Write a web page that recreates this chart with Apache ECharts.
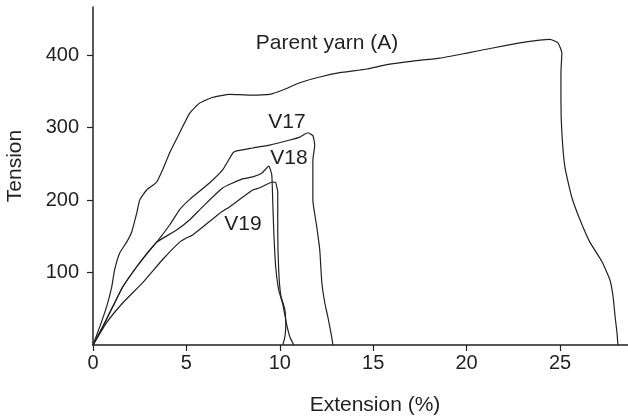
<!DOCTYPE html>
<html><head><meta charset="utf-8">
<script src="https://cdn.jsdelivr.net/npm/echarts@6/dist/echarts.min.js"></script>
<style>html,body{margin:0;padding:0;background:#fff}#c{width:628px;height:417px}</style>
</head><body><div id="c"></div>
<script>
// Tick labels
const xTicks = [0, 5, 10, 15, 20, 25];
const yTicks = [100, 200, 300, 400];
// Series: [extension %, tension]
const parentYarn = [[0,0],[0.36,25],[0.73,53],[1.0,80],[1.16,104],[1.43,127],[1.8,142],[2.07,156],[2.34,182],[2.5,200],[2.87,214],[3.41,225],[3.73,242],[4.1,265],[4.64,293],[5.18,320],[5.71,334],[6.41,342],[7.32,346],[8.39,345],[9.46,346],[10.16,352],[11.07,362],[12.14,370],[13.21,376],[14.66,381],[15.73,387],[17.13,392],[18.57,396],[20.01,403],[21.4,410],[22.85,417],[23.92,421],[24.46,422],[24.89,417],[25.1,403],[25.05,376],[25.05,338],[25.1,293],[25.26,246],[25.63,204],[26.07,173],[26.6,142],[27.25,115],[27.67,90],[27.84,67],[27.95,39],[28.05,17],[28.1,0]];
const v17 = [[0,0],[0.52,25],[1.06,53],[1.59,80],[2.34,108],[3.04,131],[3.41,142],[4.11,166],[4.64,187],[5.18,201],[6.25,224],[6.95,242],[7.48,265],[7.69,268],[8.55,272],[9.46,276],[10.54,283],[11.07,287],[11.5,293],[11.77,289],[11.87,276],[11.77,255],[11.77,200],[11.98,163],[12.14,131],[12.25,86],[12.41,58],[12.57,39],[12.78,11],[12.84,0]];
const v18 = [[0,0],[0.52,25],[1.06,53],[1.59,80],[2.34,108],[3.04,131],[3.41,142],[4.49,159],[5.18,173],[5.88,191],[6.95,217],[7.96,229],[8.55,232],[9.03,237],[9.41,247],[9.57,235],[9.62,200],[9.68,155],[9.78,108],[9.94,76],[10.16,56],[10.37,28],[10.54,11],[10.75,0]];
const v19 = [[0,0],[0.73,31],[1.59,58],[2.66,86],[3.73,118],[4.64,142],[5.02,148],[5.34,152],[5.88,163],[6.79,182],[7.32,191],[8.55,214],[8.93,217],[9.62,225],[9.78,224],[9.89,211],[9.89,159],[9.94,104],[10.05,69],[10.27,49],[10.32,28],[10.27,11],[10.16,0]];
const seriesNames = ['Parent yarn (A)', 'V17', 'V18', 'V19'];

const FONT = 'Liberation Sans';
const INK = '#231f20';
const TXT = '21px "' + FONT + '"';
const chart = echarts.init(document.getElementById('c'), null, {renderer:'canvas'});
const mk = (name, data) => ({
  name, type:'line', data, showSymbol:false, smooth:0.15,
  lineStyle:{color:INK, width:1.2}, silent:true, animation:false
});
const txt = (x, y, text, rot) => ({type:'text', x, y, rotation:rot || 0,
  style:{text, fill:INK, font:TXT, textAlign:'center', textVerticalAlign:'middle'}});
chart.setOption({
  animation:false,
  grid:{left:93, right:0, top:7, bottom:72, containLabel:false},
  xAxis:{type:'value', min:0, max:28.64, interval:5,
    axisLine:{lineStyle:{color:INK, width:1.5}},
    axisTick:{show:true, length:6, lineStyle:{color:INK, width:1.2}},
    axisLabel:{color:INK, fontFamily:FONT, fontSize:20, margin:8, showMaxLabel:false,
      formatter: v => xTicks.includes(v) ? String(v) : ''},
    splitLine:{show:false}},
  yAxis:{type:'value', min:0, max:466.6, interval:100,
    axisLine:{show:true, lineStyle:{color:INK, width:1.5}},
    axisTick:{show:true, length:6, lineStyle:{color:INK, width:1.2}},
    axisLabel:{color:INK, fontFamily:FONT, fontSize:20, margin:14, showMinLabel:false, showMaxLabel:false,
      formatter: v => yTicks.includes(v) ? String(v) : ''},
    splitLine:{show:false}},
  series:[mk(seriesNames[0], parentYarn), mk(seriesNames[1], v17), mk(seriesNames[2], v18), mk(seriesNames[3], v19)],
  graphic:[
    txt(375, 405, 'Extension (%)'),
    txt(15, 166, 'Tension', Math.PI/2),
    txt(327, 43, seriesNames[0]),
    txt(287, 122, seriesNames[1]),
    txt(289, 158, seriesNames[2]),
    txt(243, 224, seriesNames[3])
  ]
});
</script></body></html>
